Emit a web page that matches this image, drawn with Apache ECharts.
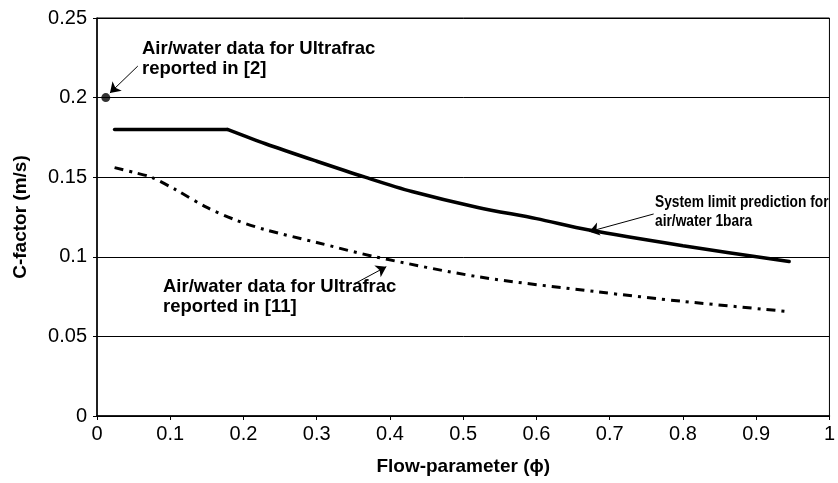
<!DOCTYPE html>
<html>
<head>
<meta charset="utf-8">
<script src="https://cdn.jsdelivr.net/npm/echarts@6/dist/echarts.min.js"></script>
<style>
  html, body { margin: 0; padding: 0; background: #fff; }
  #chart { width: 838px; height: 483px; }
</style>
</head>
<body>
<div id="chart"></div>
<script>
// system limit prediction (solid): flat part then decreasing curve
const limitX = [0.024, 0.178, 0.23, 0.3, 0.366, 0.43, 0.52, 0.6, 0.67, 0.8, 0.945];
const limitY = [0.18, 0.18, 0.171, 0.160, 0.15, 0.141, 0.131, 0.124, 0.117, 0.107, 0.097];

// Ultrafrac data from [11] (dashed)
const ref11X = [0.024, 0.05, 0.074, 0.108, 0.15, 0.19, 0.23, 0.3, 0.38, 0.52, 0.683, 0.8, 0.946];
const ref11Y = [0.156, 0.153, 0.15, 0.142, 0.131, 0.123, 0.117, 0.109, 0.1, 0.0875, 0.078, 0.072, 0.0655];

// single point from [2]
const ref2Point = [0.012, 0.2];

const pairs = (xs, ys) => xs.map((x, i) => [x, ys[i]]);
const limitPts = pairs(limitX, limitY);

const font = 'Arial, "Liberation Sans", sans-serif';
const chart = echarts.init(document.getElementById('chart'));

const arrowLine = (from, to) => [
  { coord: from, symbol: 'none' },
  { coord: to, symbol: 'arrow' }
];

chart.setOption({
  animation: false,
  grid: {
    left: 97, right: 5, top: 18, bottom: 67,
    show: true, borderColor: '#000', borderWidth: 1
  },
  xAxis: {
    type: 'value', min: 0, max: 1, interval: 0.1,
    name: 'Flow-parameter (\u03d5)', nameLocation: 'middle', nameGap: 41,
    nameTextStyle: { fontFamily: font, fontSize: 19, fontWeight: 'bold', color: '#000' },
    axisLine: { show: true, lineStyle: { color: '#000', width: 1.5 } },
    axisTick: { show: true, inside: false, length: 4, lineStyle: { color: '#000' } },
    axisLabel: { fontFamily: font, fontSize: 20, color: '#000', margin: 8 },
    splitLine: { show: false }
  },
  yAxis: {
    type: 'value', min: 0, max: 0.25, interval: 0.05,
    name: 'C-factor (m/s)', nameLocation: 'middle', nameGap: 67,
    nameTextStyle: { fontFamily: font, fontSize: 19, fontWeight: 'bold', color: '#000' },
    axisLine: { show: true, lineStyle: { color: '#000', width: 1.5 } },
    axisTick: { show: true, inside: false, length: 4, lineStyle: { color: '#000' } },
    axisLabel: { fontFamily: font, fontSize: 20, color: '#000', margin: 10 },
    splitLine: { show: true, lineStyle: { color: '#000', width: 1 } }
  },
  series: [
    {
      type: 'line', data: limitPts.slice(0, 2), showSymbol: false,
      lineStyle: { color: '#000', width: 3.5, cap: 'round' }, z: 5
    },
    {
      type: 'line', data: limitPts.slice(1), showSymbol: false, smooth: 0.3,
      lineStyle: { color: '#000', width: 3.5, cap: 'round' }, z: 5,
      markLine: {
        silent: true, symbolSize: 10, label: { show: false },
        lineStyle: { color: '#000', width: 1, type: 'solid' },
        data: [
          arrowLine([0.0557, 0.2198], [0.0177, 0.2029]),
          arrowLine([0.353, 0.0834], [0.395, 0.0938]),
          arrowLine([0.760, 0.1269], [0.672, 0.1158])
        ]
      }
    },
    {
      type: 'line', data: pairs(ref11X, ref11Y), showSymbol: false, smooth: 0.3,
      lineStyle: { color: '#000', width: 3, type: [9, 6, 3, 6] }, z: 4
    },
    {
      type: 'scatter', data: [ref2Point], symbol: 'circle', symbolSize: 9,
      itemStyle: { color: '#000' }, z: 6
    }
  ],
  graphic: [
    {
      type: 'text', left: 142, top: 39,
      style: {
        text: 'Air/water data for Ultrafrac\nreported in [2]',
        font: 'bold 18.5px ' + font, fill: '#000', lineHeight: 20
      }
    },
    {
      type: 'text', left: 163, top: 277,
      style: {
        text: 'Air/water data for Ultrafrac\nreported in [11]',
        font: 'bold 18.5px ' + font, fill: '#000', lineHeight: 20
      }
    },
    {
      type: 'text', x: 655, y: 193, scaleX: 0.86,
      style: {
        text: 'System limit prediction for\nair/water 1bara',
        font: 'bold 16px ' + font, fill: '#000', lineHeight: 19
      }
    }
  ]
});
</script>
</body>
</html>
